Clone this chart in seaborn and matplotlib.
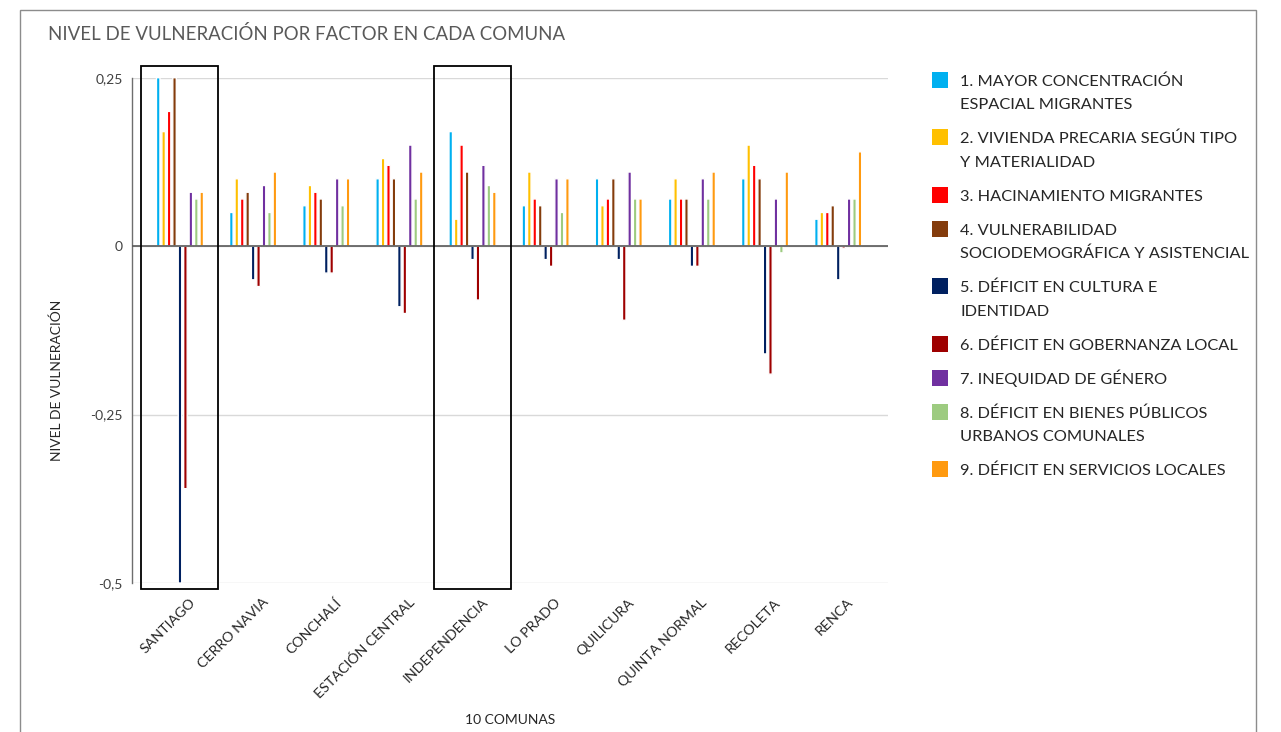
import matplotlib
matplotlib.use("Agg")
import matplotlib.pyplot as plt
from matplotlib.patches import Rectangle
from matplotlib.transforms import ScaledTranslation
import seaborn as sns
import pandas as pd

# ---------------- data ----------------
comunas = ["SANTIAGO", "CERRO NAVIA", "CONCHALÍ", "ESTACIÓN CENTRAL", "INDEPENDENCIA",
           "LO PRADO", "QUILICURA", "QUINTA NORMAL", "RECOLETA", "RENCA"]

factores = [
    "1. MAYOR CONCENTRACIÓN\nESPACIAL MIGRANTES",
    "2. VIVIENDA PRECARIA SEGÚN TIPO\nY MATERIALIDAD",
    "3. HACINAMIENTO MIGRANTES",
    "4. VULNERABILIDAD\nSOCIODEMOGRÁFICA Y ASISTENCIAL",
    "5. DÉFICIT EN CULTURA E\nIDENTIDAD",
    "6. DÉFICIT EN GOBERNANZA LOCAL",
    "7. INEQUIDAD DE GÉNERO",
    "8. DÉFICIT EN BIENES PÚBLICOS\nURBANOS COMUNALES",
    "9. DÉFICIT EN SERVICIOS LOCALES",
]

f1_concentracion = [0.25, 0.05, 0.06, 0.10, 0.17, 0.06, 0.10, 0.07, 0.10, 0.04]
f2_vivienda      = [0.17, 0.10, 0.09, 0.13, 0.04, 0.11, 0.06, 0.10, 0.15, 0.05]
f3_hacinamiento  = [0.20, 0.07, 0.08, 0.12, 0.15, 0.07, 0.07, 0.07, 0.12, 0.05]
f4_vulnerabilidad= [0.25, 0.08, 0.07, 0.10, 0.11, 0.06, 0.10, 0.07, 0.10, 0.06]
f5_cultura       = [-0.50, -0.05, -0.04, -0.09, -0.02, -0.02, -0.02, -0.03, -0.16, -0.05]
f6_gobernanza    = [-0.36, -0.06, -0.04, -0.10, -0.08, -0.03, -0.11, -0.03, -0.19, -0.003]
f7_genero        = [0.08, 0.09, 0.10, 0.15, 0.12, 0.10, 0.11, 0.10, 0.07, 0.07]
f8_bienes        = [0.07, 0.05, 0.06, 0.07, 0.09, 0.05, 0.07, 0.07, -0.01, 0.07]
f9_servicios     = [0.08, 0.11, 0.10, 0.11, 0.08, 0.10, 0.07, 0.11, 0.11, 0.14]

series = [f1_concentracion, f2_vivienda, f3_hacinamiento, f4_vulnerabilidad, f5_cultura,
          f6_gobernanza, f7_genero, f8_bienes, f9_servicios]

yticks = [0.25, 0, -0.25, -0.5]
ytick_labels = ["0,25", "0", "-0,25", "-0,5"]
destacadas = ["SANTIAGO", "INDEPENDENCIA"]

title = "NIVEL DE VULNERACIÓN POR FACTOR EN CADA COMUNA"
xlabel = "10 COMUNAS"
ylabel = "NIVEL DE VULNERACIÓN"

colores = ["#00B0F0", "#FFC000", "#FF0000", "#843C0C", "#002060",
           "#9E0000", "#7030A0", "#9DCB80", "#FF9A10"]

# ---------------- build long table ----------------
rows = []
for fac, vals in zip(factores, series):
    for com, v in zip(comunas, vals):
        rows.append({"comuna": com, "factor": fac, "valor": v})
df = pd.DataFrame(rows)

# ---------------- figure ----------------
sns.set_theme(style="white")
FONT = ["Lato", "DejaVu Sans"]
plt.rcParams["font.family"] = FONT

W, H = 1281, 732
fig = plt.figure(figsize=(W / 100, H / 100), dpi=100)
fig.patch.set_facecolor("white")

def px(x, y):
    return x / W, 1 - y / H

# outer chart frame
fig.add_artist(Rectangle(px(20, 760), (1256 - 20) / W, (760 - 9.5) / H,
                         transform=fig.transFigure, fill=False,
                         edgecolor="#8C8C8C", lw=1.0))

ax_l, ax_r, ax_t, ax_b = 132.3, 887.7, 77.7, 583.0
ax = fig.add_axes([ax_l / W, 1 - ax_b / H, (ax_r - ax_l) / W, (ax_b - ax_t) / H])

sns.barplot(data=df, x="comuna", y="valor", hue="factor", order=comunas,
            hue_order=factores, palette=colores, width=0.67, gap=0.36,
            errorbar=None, legend=False, ax=ax, saturation=1, zorder=2)
for p in ax.patches:
    p.set_snap(False)

ax.set_xlim(-0.652, 9.677)
ax.set_ylim(-0.5, 0.25)
ax.set_yticks(yticks)
ax.set_yticklabels(ytick_labels)
ax.yaxis.grid(True, color="#D9D9D9", lw=1.0, zorder=0)
ax.set_axisbelow(True)
ax.axhline(0, color="#595959", lw=1.2, zorder=3)

for s in ["top", "right", "bottom"]:
    ax.spines[s].set_visible(False)
ax.spines["left"].set_color("#6E6E6E")
ax.spines["left"].set_linewidth(1.0)

ax.tick_params(axis="y", length=0, pad=7, labelsize=10, labelcolor="#404040")
ax.tick_params(axis="x", length=0, pad=9.5, labelsize=10.3, labelcolor="#262626")
for lab in ax.get_xticklabels():
    lab.set_rotation(45)
    lab.set_ha("right")
    lab.set_va("top")
    lab.set_rotation_mode("anchor")
    lab.set_transform(lab.get_transform() + ScaledTranslation(9 / 100, 0, fig.dpi_scale_trans))

ax.set_xlabel(xlabel, fontsize=10, color="#262626")
ax.xaxis.set_label_coords(0.5, -(720 - ax_b) / (ax_b - ax_t))
ax.xaxis.label.set_va("center")
ax.set_ylabel(ylabel, fontsize=10, color="#262626")
ax.yaxis.set_label_coords((57 - ax_l) / (ax_r - ax_l), (ax_b - 380) / (ax_b - ax_t))
ax.yaxis.label.set_va("center")

# highlight boxes
for com in destacadas:
    i = comunas.index(com)
    ax.add_patch(Rectangle((i - 0.53, -0.509), 1.05, 0.268 + 0.509,
                           fill=False, edgecolor="black", lw=1.3,
                           clip_on=False, zorder=5))

# title
fig.text(*px(48, 40), title, fontsize=13.4, color="#595959", va="baseline", ha="left")

# legend (manual)
yc = 80.0
for fac, col in zip(factores, colores):
    fig.add_artist(Rectangle(px(932, yc + 8), 16 / W, 16 / H,
                             transform=fig.transFigure, facecolor=col,
                             edgecolor="none"))
    lines = fac.split("\n")
    for k, line in enumerate(lines):
        fig.text(*px(960, yc + 23.4 * k + 6), line, fontsize=11.8,
                 color="#262626", va="baseline", ha="left")
    yc += 34 + 23.4 * (len(lines) - 1)

fig.savefig("out.png", dpi=100, facecolor="white")
